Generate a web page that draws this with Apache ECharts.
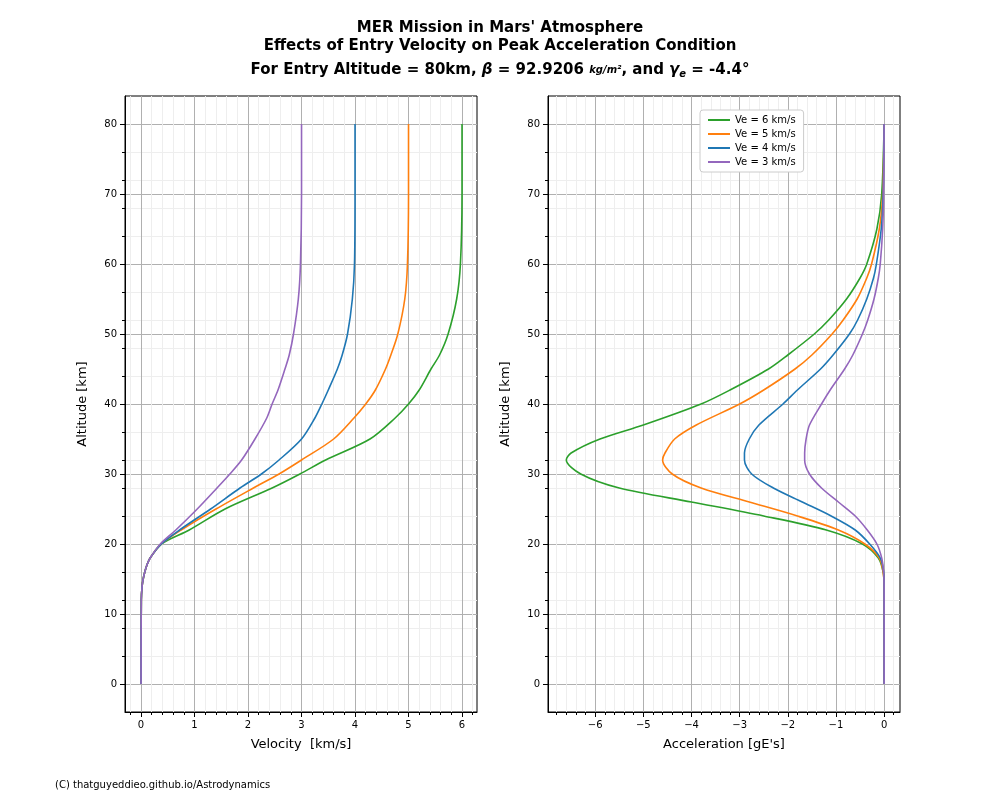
<!DOCTYPE html>
<html>
<head>
<meta charset="utf-8">
<script src="https://cdn.jsdelivr.net/npm/echarts@6/dist/echarts.min.js"></script>
<style>body{margin:0}#c{width:1000px;height:800px}</style>
</head>
<body>
<div id="c"></div>
<script>
// altitude samples [km]
const altitudes = [0, 12, 14, 15, 16, 17, 18, 20, 22, 25, 28, 30, 32, 35, 38, 40, 42, 45, 47, 50, 55, 60, 70, 80];
// velocity [km/s] at each altitude
const vel6 = [0, 0.005, 0.02, 0.04, 0.07, 0.11, 0.17, 0.38, 0.9, 1.57, 2.45, 2.97, 3.45, 4.28, 4.75, 5.0, 5.2, 5.42, 5.58, 5.74, 5.9, 5.97, 6.0, 6.0];
const vel5 = [0, 0.005, 0.02, 0.04, 0.07, 0.11, 0.17, 0.38, 0.75, 1.4, 2.1, 2.58, 3.0, 3.6, 3.98, 4.2, 4.38, 4.57, 4.67, 4.8, 4.93, 4.98, 5.0, 5.0];
const vel4 = [0, 0.005, 0.02, 0.04, 0.07, 0.11, 0.17, 0.38, 0.72, 1.3, 1.85, 2.25, 2.58, 3.0, 3.25, 3.38, 3.5, 3.67, 3.76, 3.86, 3.95, 3.99, 4.0, 4.0];
const vel3 = [0, 0.005, 0.02, 0.04, 0.07, 0.11, 0.17, 0.36, 0.65, 1.05, 1.42, 1.66, 1.88, 2.13, 2.35, 2.45, 2.56, 2.69, 2.77, 2.85, 2.94, 2.98, 3.0, 3.0];

const accAlt = [0, 14, 16, 18, 20, 22, 24, 26, 28, 30, 32, 33, 35, 37, 40, 42, 45, 47, 50, 52, 55, 58, 60, 65, 70, 80];
const acc6 = [0, 0, -0.02, -0.12, -0.45, -1.2, -2.5, -4.0, -5.5, -6.3, -6.6, -6.5, -5.9, -5.0, -3.8, -3.2, -2.4, -2.0, -1.45, -1.15, -0.78, -0.5, -0.36, -0.15, -0.05, 0];
const acc5 = [0, 0, -0.02, -0.1, -0.4, -0.95, -1.8, -2.8, -3.8, -4.4, -4.6, -4.55, -4.35, -3.9, -3.0, -2.5, -1.85, -1.5, -1.08, -0.85, -0.56, -0.36, -0.26, -0.1, -0.03, 0];
const acc4 = [0, 0, -0.01, -0.08, -0.3, -0.6, -1.1, -1.7, -2.3, -2.75, -2.9, -2.9, -2.8, -2.6, -2.1, -1.8, -1.32, -1.06, -0.72, -0.55, -0.36, -0.22, -0.16, -0.06, -0.02, 0];
const acc3 = [0, 0, -0.01, -0.05, -0.15, -0.35, -0.6, -0.95, -1.3, -1.55, -1.65, -1.65, -1.62, -1.55, -1.3, -1.12, -0.82, -0.65, -0.45, -0.34, -0.21, -0.12, -0.08, -0.03, -0.01, 0];

const names = ['Ve = 6 km/s', 'Ve = 5 km/s', 'Ve = 4 km/s', 'Ve = 3 km/s'];
const colors = ['#2ca02c', '#ff7f0e', '#1f77b4', '#9467bd'];
const velTicks = [0, 1, 2, 3, 4, 5, 6];
const accTicks = [-6, -5, -4, -3, -2, -1, 0];
const altTicks = [0, 10, 20, 30, 40, 50, 60, 70, 80];

const pairs = (xs, ys) => xs.map((x, i) => [x, ys[i]]);

function xAxisCfg(idx, min, max, name, ticks) {
  return {
    gridIndex: idx, type: 'value', min: min, max: max,
    name: name, nameLocation: 'middle', nameGap: 26,
    nameTextStyle: { fontSize: 13, color: '#000' },
    axisLine: { onZero: false, lineStyle: { color: '#000' } },
    axisTick: { show: true, lineStyle: { color: '#000' }, customValues: ticks },
    minorTick: { show: true, splitNumber: 5, lineStyle: { color: '#000' } },
    axisLabel: { color: '#000', fontSize: 10, customValues: ticks,
      formatter: v => String(v).replace('-', '\u2212') },
    splitLine: { show: true, lineStyle: { color: '#b0b0b0' } },
    minorSplitLine: { show: true, lineStyle: { color: '#eeeeee' } }
  };
}
function yAxisCfg(idx) {
  return {
    gridIndex: idx, type: 'value', min: -4, max: 84,
    name: 'Altitude [km]', nameLocation: 'middle', nameGap: 36,
    nameTextStyle: { fontSize: 13, color: '#000' },
    axisLine: { show: true, onZero: false, lineStyle: { color: '#000' } },
    axisTick: { show: true, lineStyle: { color: '#000' }, customValues: altTicks },
    minorTick: { show: true, splitNumber: 5, lineStyle: { color: '#000' } },
    axisLabel: { color: '#000', fontSize: 10, customValues: altTicks },
    splitLine: { show: true, lineStyle: { color: '#b0b0b0' } },
    minorSplitLine: { show: true, lineStyle: { color: '#eeeeee' } }
  };
}

const series = [];
[vel6, vel5, vel4, vel3].forEach((v, i) => series.push({
  name: names[i], type: 'line', xAxisIndex: 0, yAxisIndex: 0, data: pairs(v, altitudes),
  smooth: 0.3, showSymbol: false, lineStyle: { width: 1.6, color: colors[i] }, itemStyle: { color: colors[i] }
}));
[acc6, acc5, acc4, acc3].forEach((v, i) => series.push({
  name: names[i], type: 'line', xAxisIndex: 1, yAxisIndex: 1, data: pairs(v, accAlt),
  smooth: 0.3, showSymbol: false, lineStyle: { width: 1.6, color: colors[i] }, itemStyle: { color: colors[i] }
}));

const chart = echarts.init(document.getElementById('c'));
chart.setOption({
  animation: false,
  backgroundColor: '#fff',
  textStyle: { fontFamily: 'DejaVu Sans' },
  title: [{
    left: 'center', top: 14,
    text: "MER Mission in Mars' Atmosphere\nEffects of Entry Velocity on Peak Acceleration Condition",
    textStyle: { fontSize: 15, fontWeight: 'bold', color: '#000', lineHeight: 18, fontFamily: 'DejaVu Sans' }
  }, {
    left: 'center', top: 56,
    text: '{b|For Entry Altitude = 80km, }{i|β}{b| = 92.9206 }{f|kg/m²}{b|, and }{i|γ}{s|e}{b| = -4.4°}',
    textStyle: { fontFamily: 'DejaVu Sans', rich: {
      b: { fontSize: 15, fontWeight: 'bold', color: '#000', fontFamily: 'DejaVu Sans' },
      i: { fontSize: 15, fontStyle: 'italic', fontWeight: 'bold', color: '#000', fontFamily: 'DejaVu Sans' },
      s: { fontSize: 10, fontStyle: 'italic', color: '#000', verticalAlign: 'bottom', padding: [8, 0, 0, 0], fontFamily: 'DejaVu Sans' },
      f: { fontSize: 10, fontStyle: 'italic', color: '#000', fontFamily: 'DejaVu Sans' }
    } }
  }, {
    left: 50, top: 775, text: '(C) thatguyeddieo.github.io/Astrodynamics',
    textStyle: { fontSize: 10, fontWeight: 'normal', color: '#000', fontFamily: 'DejaVu Sans' }
  }],
  legend: {
    data: names, orient: 'vertical', left: 700, top: 110, itemGap: 4,
    itemWidth: 22, itemHeight: 2, icon: 'rect',
    backgroundColor: '#fff', borderColor: '#ccc', borderWidth: 1, borderRadius: 3, padding: [5, 8],
    textStyle: { fontSize: 10, color: '#000' }
  },
  grid: [
    { left: 125, top: 96, width: 352, height: 616, show: true, borderColor: '#000', borderWidth: 1 },
    { left: 548, top: 96, width: 352, height: 616, show: true, borderColor: '#000', borderWidth: 1 }
  ],
  xAxis: [
    xAxisCfg(0, -0.3, 6.28, 'Velocity  [km/s]', velTicks),
    xAxisCfg(1, -6.98, 0.33, "Acceleration [gE's]", accTicks)
  ],
  yAxis: [yAxisCfg(0), yAxisCfg(1)],
  series: series
});
</script>
</body>
</html>
